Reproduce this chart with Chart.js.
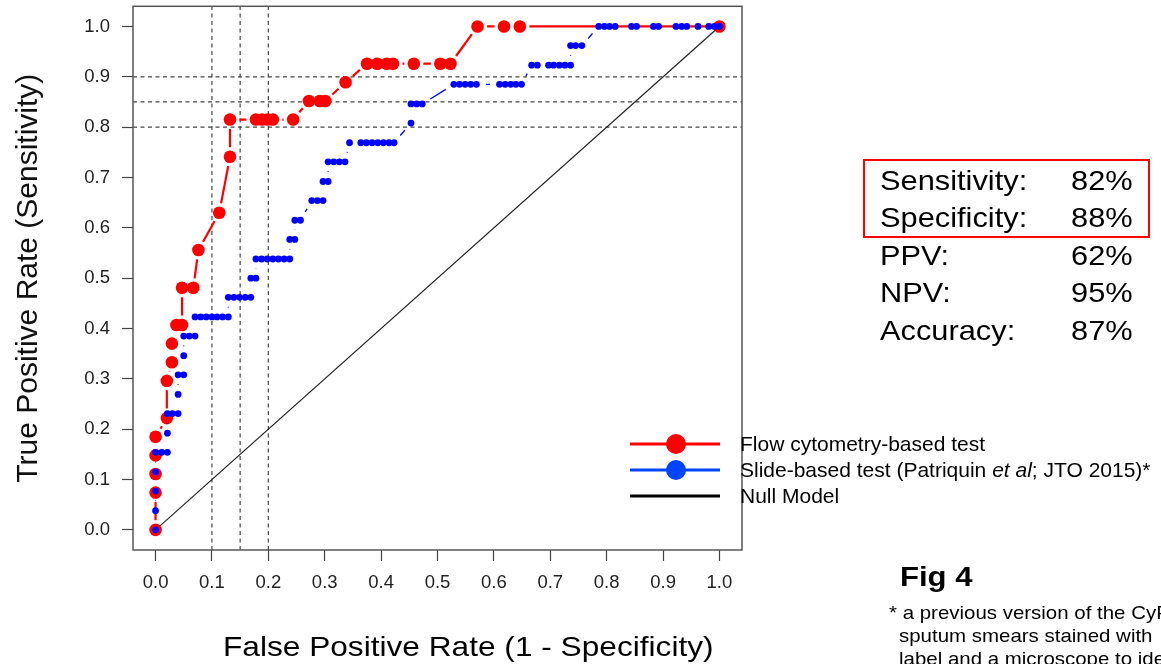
<!DOCTYPE html>
<html>
<head>
<meta charset="utf-8">
<script src="https://cdn.jsdelivr.net/npm/chart.js@4.4.1/dist/chart.umd.min.js"></script>
<style>
html,body{margin:0;padding:0;background:#fff;}
#wrap{position:relative;width:1161px;height:664px;overflow:hidden;font-family:"Liberation Sans",Arial,Helvetica,sans-serif;color:#000;}
#c{position:absolute;left:0;top:0;}
.t{position:absolute;white-space:nowrap;transform-origin:0 0;}
.lgrow{position:absolute;left:629px;height:24px;width:540px;}
.lgrow svg{position:absolute;left:0;top:0;}
.lgrow span{position:absolute;left:111px;top:0;font-size:21px;line-height:24px;white-space:nowrap;}
</style>
</head>
<body>
<div id="wrap">
<canvas id="c" width="1161" height="664"></canvas>
</div>
<script>
// ---------------- data ----------------
const flowFPR = [0, 0, 0, 0, 0, 0.020, 0.020, 0.029, 0.029, 0.037, 0.047, 0.047, 0.067, 0.076, 0.113, 0.132, 0.132,
  0.178, 0.189, 0.199, 0.208, 0.244, 0.272, 0.291, 0.301, 0.337,
  0.375, 0.393, 0.410, 0.421, 0.458, 0.505, 0.523, 0.571, 0.618, 0.646, 1.0];
const flowTPR = [0, 0.074, 0.111, 0.148, 0.185, 0.222, 0.296, 0.333, 0.370, 0.407, 0.407, 0.481, 0.481, 0.556, 0.630, 0.741, 0.815,
  0.815, 0.815, 0.815, 0.815, 0.815, 0.852, 0.852, 0.852, 0.889,
  0.926, 0.926, 0.926, 0.926, 0.926, 0.926, 0.926, 1.0, 1.0, 1.0, 1.0];

const slideFPR = [0, 0, 0, 0, 0, 0.011, 0.021, 0.021, 0.021, 0.030, 0.040, 0.040, 0.040, 0.050, 0.050, 0.050, 0.060, 0.070,
  0.070, 0.080, 0.090, 0.100, 0.109, 0.119, 0.129, 0.129, 0.139, 0.149, 0.159, 0.169, 0.169, 0.178,
  0.178, 0.188, 0.198, 0.208, 0.218, 0.228, 0.238, 0.238, 0.247, 0.247, 0.257, 0.277, 0.287, 0.297,
  0.297, 0.306, 0.306, 0.316, 0.326, 0.336, 0.344, 0.364, 0.374, 0.384, 0.394, 0.404, 0.414, 0.423,
  0.453, 0.453, 0.463, 0.473, 0.529, 0.539, 0.549, 0.559, 0.569, 0.610, 0.620, 0.630, 0.639, 0.649,
  0.667, 0.677, 0.697, 0.706, 0.716, 0.726, 0.736, 0.736, 0.745, 0.756,
  0.786, 0.796, 0.805, 0.815, 0.844, 0.853, 0.883, 0.892, 0.923, 0.933, 0.942, 0.962, 0.981, 0.991, 1.0];
const slideTPR = [0, 0.038, 0.077, 0.115, 0.154, 0.154, 0.154, 0.192, 0.231, 0.231, 0.231, 0.269, 0.308, 0.308, 0.346, 0.385, 0.385, 0.385,
  0.423, 0.423, 0.423, 0.423, 0.423, 0.423, 0.423, 0.462, 0.462, 0.462, 0.462, 0.462, 0.500, 0.500,
  0.538, 0.538, 0.538, 0.538, 0.538, 0.538, 0.538, 0.577, 0.577, 0.615, 0.615, 0.654, 0.654, 0.654,
  0.692, 0.692, 0.731, 0.731, 0.731, 0.731, 0.769, 0.769, 0.769, 0.769, 0.769, 0.769, 0.769, 0.769,
  0.808, 0.846, 0.846, 0.846, 0.885, 0.885, 0.885, 0.885, 0.885, 0.885, 0.885, 0.885, 0.885, 0.885,
  0.923, 0.923, 0.923, 0.923, 0.923, 0.923, 0.923, 0.962, 0.962, 0.962,
  1.0, 1.0, 1.0, 1.0, 1.0, 1.0, 1.0, 1.0, 1.0, 1.0, 1.0, 1.0, 1.0, 1.0, 1.0];

const nullFPR = [0, 1];
const nullTPR = [0, 1];

const cutoffFPR = [0.10, 0.15, 0.20];   // vertical dashed guides
const cutoffTPR = [0.80, 0.85, 0.90];   // horizontal dashed guides

const tickValues = [0, 0.1, 0.2, 0.3, 0.4, 0.5, 0.6, 0.7, 0.8, 0.9, 1.0];
const tickLabels = ['0.0', '0.1', '0.2', '0.3', '0.4', '0.5', '0.6', '0.7', '0.8', '0.9', '1.0'];
const axisMin = -0.04, axisMax = 1.04;

const seriesNames = ['Flow cytometry-based test', 'Slide-based test (Patriquin <i>et al</i>; JTO 2015)*', 'Null Model'];
const statLabels = ['Sensitivity:', 'Specificity:', 'PPV:', 'NPV:', 'Accuracy:'];
const statValues = ['82%', '88%', '62%', '95%', '87%'];

const xTitle = 'False Positive Rate (1 - Specificity)';
const yTitle = 'True Positive Rate (Sensitivity)';
const figLabel = 'Fig 4';
const footnoteLines = ['* a previous version of the CyPath', 'sputum smears stained with', 'label and a microscope to identify'];

// ---------------- helpers ----------------
const FONT = '"Liberation Sans", Arial, Helvetica, sans-serif';
const pts = (xs, ys) => xs.map((x, i) => ({x: x, y: ys[i]}));
const GAP = 9.5;
const segLen = c => Math.hypot(c.p1.x - c.p0.x, c.p1.y - c.p0.y);
function gapSegment(color) {
  return {
    borderColor: c => segLen(c) > 2 * GAP ? color : 'rgba(0,0,0,0)',
    borderDash: c => { const d = segLen(c); return d > 2 * GAP ? [0, GAP, d - 2 * GAP, GAP] : []; }
  };
}

const datasets = [];
datasets.push({
  label: 'Slide-based test', data: pts(slideFPR, slideTPR), showLine: true,
  borderColor: '#0000ff', borderWidth: 1.3, pointRadius: 3.4, pointHoverRadius: 3.4,
  pointBackgroundColor: '#0000ff', pointBorderWidth: 0, segment: gapSegment('#0000ff')
});
datasets.push({
  label: 'Flow cytometry-based test', data: pts(flowFPR, flowTPR), showLine: true,
  borderColor: '#ff0000', borderWidth: 2.2, pointRadius: 6.3, pointHoverRadius: 6.3,
  pointBackgroundColor: '#ff0000', pointBorderWidth: 0, segment: gapSegment('#ff0000')
});
datasets.push({
  label: 'Null Model', data: pts(nullFPR, nullTPR), showLine: true,
  borderColor: '#222', borderWidth: 1.2, pointRadius: 0
});
cutoffFPR.forEach(v => datasets.push({
  label: 'cut ' + v, data: [{x: v, y: axisMin}, {x: v, y: axisMax}], showLine: true,
  borderColor: '#444', borderWidth: 1.2, borderDash: [4, 3.5], pointRadius: 0
}));
cutoffTPR.forEach(v => datasets.push({
  label: 'cut ' + v, data: [{x: axisMin, y: v}, {x: axisMax, y: v}], showLine: true,
  borderColor: '#444', borderWidth: 1.2, borderDash: [4, 3.5], pointRadius: 0
}));

const framePlugin = {
  id: 'frame',
  afterDatasetsDraw(chart) {
    const {ctx, chartArea: a} = chart;
    ctx.save();
    ctx.strokeStyle = '#555';
    ctx.lineWidth = 1.5;
    ctx.strokeRect(a.left, a.top, a.right - a.left, a.bottom - a.top);
    ctx.restore();
  }
};

function noPad(s) { s.paddingTop = 0; s.paddingBottom = 0; s.paddingLeft = 0; s.paddingRight = 0; }

const tickFont = {family: FONT, size: 18.5};
new Chart(document.getElementById('c'), {
  type: 'scatter',
  data: {datasets: datasets},
  options: {
    responsive: false, animation: false, devicePixelRatio: 1,
    layout: {padding: {left: 0, top: 6, right: 419, bottom: 0}},
    plugins: {legend: {display: false}, tooltip: {enabled: false}},
    elements: {line: {tension: 0}},
    scales: {
      x: {
        type: 'linear', min: axisMin, max: axisMax,
        afterBuildTicks: s => { s.ticks = tickValues.map(v => ({value: v})); },
        afterFit: s => { s.height = 114; noPad(s); },
        ticks: {callback: (v, i) => tickLabels[i], font: tickFont, color: '#222', padding: 11, autoSkip: false, maxRotation: 0},
        grid: {drawOnChartArea: false, drawTicks: true, tickLength: 11, tickColor: '#444', tickWidth: 1.2},
        border: {display: false},
        title: {display: false}
      },
      y: {
        type: 'linear', min: axisMin, max: axisMax,
        afterBuildTicks: s => { s.ticks = tickValues.map(v => ({value: v})); },
        afterFit: s => { s.width = 133; noPad(s); },
        ticks: {callback: (v, i) => tickLabels[i], font: tickFont, color: '#222', padding: 12, autoSkip: false},
        grid: {drawOnChartArea: false, drawTicks: true, tickLength: 11, tickColor: '#444', tickWidth: 1.2},
        border: {display: false},
        title: {display: true, text: yTitle, font: {family: FONT, size: 30}, color: '#111', padding: {top: 11, bottom: 0}}
      }
    }
  },
  plugins: [framePlugin]
});

// ---------------- text overlays ----------------
const wrap = document.getElementById('wrap');
function addText(html, left, top, size, opts) {
  const d = document.createElement('div');
  d.className = 't';
  d.innerHTML = html;
  d.style.left = left + 'px';
  d.style.top = top + 'px';
  d.style.fontSize = size + 'px';
  d.style.lineHeight = (opts && opts.lh ? opts.lh : size) + 'px';
  if (opts && opts.bold) d.style.fontWeight = 'bold';
  d.style.transform = 'scaleX(' + (opts && opts.sx ? opts.sx : 1) + ')';
  wrap.appendChild(d);
  return d;
}

// x axis title
addText(xTitle, 223, 633.3, 28, {sx: 1.13});

// legend
const legendColors = ['#ff0000', '#0044ff', '#000000'];
const legendDots = [true, true, false];
const legendCenters = [444, 470, 496];
seriesNames.forEach((name, i) => {
  const row = document.createElement('div');
  row.className = 'lgrow';
  row.style.top = (legendCenters[i] - 12) + 'px';
  const c = legendColors[i];
  row.innerHTML = '<svg width="92" height="24"><line x1="1" y1="12" x2="91" y2="12" stroke="' + c + '" stroke-width="3"/>' +
    (legendDots[i] ? '<circle cx="47" cy="12" r="10" fill="' + c + '"/>' : '') + '</svg><span>' + name + '</span>';
  wrap.appendChild(row);
});

// stats box
const box = document.createElement('div');
box.style.cssText = 'position:absolute;left:863px;top:159px;width:287px;height:79px;border:2px solid #ff0000;box-sizing:border-box;';
wrap.appendChild(box);
statLabels.forEach((lab, i) => {
  const top = 161.6 + i * 37.5;
  addText(lab, 880, top, 28, {lh: 37.5, sx: 1.1});
  addText(statValues[i], 1071, top, 28, {lh: 37.5, sx: 1.1});
});

// figure label and footnote
addText(figLabel, 900, 563, 28, {bold: true, sx: 1.11});
addText(footnoteLines[0], 889, 604.3, 18.6, {sx: 1.1});
addText(footnoteLines[1], 899, 627, 18.6, {sx: 1.1});
addText(footnoteLines[2], 899, 649.7, 18.6, {sx: 1.1});
</script>
</body>
</html>
